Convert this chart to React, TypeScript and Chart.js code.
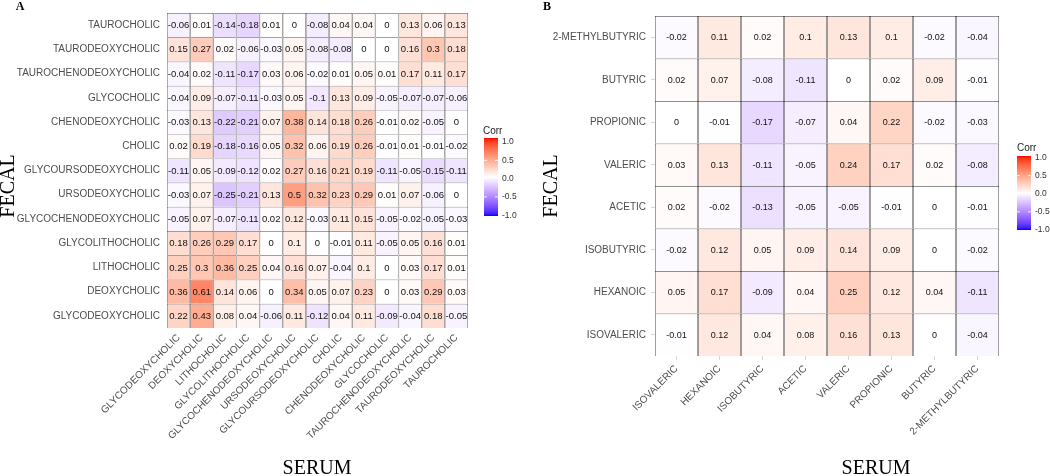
import React, { useEffect, useRef } from "react";
import { Chart, registerables } from "chart.js";
Chart.register(...registerables);

// ---------- Panel A: bile acids ----------
const bileSerum = [
  "GLYCODEOXYCHOLIC", "DEOXYCHOLIC", "LITHOCHOLIC", "GLYCOLITHOCHOLIC",
  "GLYCOCHENODEOXYCHOLIC", "URSODEOXYCHOLIC", "GLYCOURSODEOXYCHOLIC", "CHOLIC",
  "CHENODEOXYCHOLIC", "GLYCOCHOLIC", "TAUROCHENODEOXYCHOLIC", "TAURODEOXYCHOLIC", "TAUROCHOLIC",
];
// rows listed top to bottom
const bileFecal = [
  "TAUROCHOLIC", "TAURODEOXYCHOLIC", "TAUROCHENODEOXYCHOLIC", "GLYCOCHOLIC",
  "CHENODEOXYCHOLIC", "CHOLIC", "GLYCOURSODEOXYCHOLIC", "URSODEOXYCHOLIC",
  "GLYCOCHENODEOXYCHOLIC", "GLYCOLITHOCHOLIC", "LITHOCHOLIC", "DEOXYCHOLIC", "GLYCODEOXYCHOLIC",
];
const bileCorr = [
  [-0.06, 0.01, -0.14, -0.18, 0.01, 0, -0.08, 0.04, 0.04, 0, 0.13, 0.06, 0.13],
  [0.15, 0.27, 0.02, -0.06, -0.03, 0.05, -0.08, -0.08, 0, 0, 0.16, 0.3, 0.18],
  [-0.04, 0.02, -0.11, -0.17, 0.03, 0.06, -0.02, 0.01, 0.05, 0.01, 0.17, 0.11, 0.17],
  [-0.04, 0.09, -0.07, -0.11, -0.03, 0.05, -0.1, 0.13, 0.09, -0.05, -0.07, -0.07, -0.06],
  [-0.03, 0.13, -0.22, -0.21, 0.07, 0.38, 0.14, 0.18, 0.26, -0.01, 0.02, -0.05, 0],
  [0.02, 0.19, -0.18, -0.16, 0.05, 0.32, 0.06, 0.19, 0.26, -0.01, 0.01, -0.01, -0.02],
  [-0.11, 0.05, -0.09, -0.12, 0.02, 0.27, 0.16, 0.21, 0.19, -0.11, -0.05, -0.15, -0.11],
  [-0.03, 0.07, -0.25, -0.21, 0.13, 0.5, 0.32, 0.23, 0.29, 0.01, 0.07, -0.06, 0],
  [-0.05, 0.07, -0.07, -0.11, 0.02, 0.12, -0.03, 0.11, 0.15, -0.05, -0.02, -0.05, -0.03],
  [0.18, 0.26, 0.29, 0.17, 0, 0.1, 0, -0.01, 0.11, -0.05, 0.05, 0.16, 0.01],
  [0.25, 0.3, 0.36, 0.25, 0.04, 0.16, 0.07, -0.04, 0.1, 0, 0.03, 0.17, 0.01],
  [0.36, 0.61, 0.14, 0.06, 0, 0.34, 0.05, 0.07, 0.23, 0, 0.03, 0.29, 0.03],
  [0.22, 0.43, 0.08, 0.04, -0.06, 0.11, -0.12, 0.04, 0.11, -0.09, -0.04, 0.18, -0.05],
];

// ---------- Panel B: short-chain fatty acids ----------
const scfaSerum = ["ISOVALERIC", "HEXANOIC", "ISOBUTYRIC", "ACETIC", "VALERIC", "PROPIONIC", "BUTYRIC", "2-METHYLBUTYRIC"];
const scfaFecal = ["2-METHYLBUTYRIC", "BUTYRIC", "PROPIONIC", "VALERIC", "ACETIC", "ISOBUTYRIC", "HEXANOIC", "ISOVALERIC"];
const scfaCorr = [
  [-0.02, 0.11, 0.02, 0.1, 0.13, 0.1, -0.02, -0.04],
  [0.02, 0.07, -0.08, -0.11, 0, 0.02, 0.09, -0.01],
  [0, -0.01, -0.17, -0.07, 0.04, 0.22, -0.02, -0.03],
  [0.03, 0.13, -0.11, -0.05, 0.24, 0.17, 0.02, -0.08],
  [0.02, -0.02, -0.13, -0.05, -0.05, -0.01, 0, -0.01],
  [-0.02, 0.12, 0.05, 0.09, 0.14, 0.09, 0, -0.02],
  [0.05, 0.17, -0.09, 0.04, 0.25, 0.12, 0.04, -0.11],
  [-0.01, 0.12, 0.04, 0.08, 0.16, 0.13, 0, -0.04],
];

const legendTicks = [1.0, 0.5, 0.0, -0.5, -1.0];

// ---------- colour scale (Lab interpolation blue - white - red) ----------
const LAB_RED = [53.2408, 80.0925, 67.2032];
const LAB_BLUE = [32.297, 79.1875, -107.8602];
const LAB_WHITE = [100, 0, 0];

function lab2rgb(L: number, a: number, b: number): string {
  let y = (L + 16) / 116;
  let x = a / 500 + y;
  let z = y - b / 200;
  const f = (t: number) => (t * t * t > 0.008856 ? t * t * t : (t - 16 / 116) / 7.787);
  const X = 0.95047 * f(x), Y = 1.0 * f(y), Z = 1.08883 * f(z);
  let r = X * 3.2406 + Y * -1.5372 + Z * -0.4986;
  let g = X * -0.9689 + Y * 1.8758 + Z * 0.0415;
  let bb = X * 0.0557 + Y * -0.204 + Z * 1.057;
  const gam = (c: number) => (c > 0.0031308 ? 1.055 * Math.pow(c, 1 / 2.4) - 0.055 : 12.92 * c);
  const cl = (c: number) => Math.round(Math.max(0, Math.min(1, gam(c))) * 255);
  return `rgb(${cl(r)},${cl(g)},${cl(bb)})`;
}
function corrColor(v: number): string {
  const t = Math.max(-1, Math.min(1, v));
  const end = t >= 0 ? LAB_RED : LAB_BLUE;
  const k = Math.abs(t);
  return lab2rgb(
    LAB_WHITE[0] + (end[0] - LAB_WHITE[0]) * k,
    LAB_WHITE[1] + (end[1] - LAB_WHITE[1]) * k,
    LAB_WHITE[2] + (end[2] - LAB_WHITE[2]) * k
  );
}

const SANS = "'Liberation Sans', Arial, sans-serif";
const SERIF = "'Liberation Serif', 'Times New Roman', serif";

type Cfg = {
  cols: string[];
  rows: string[];
  corr: number[][];
  top: number;
  right: number;
  yWidth: number;
  xHeight: number;
  border: string;
  borderWidth: number;
  valueFont: number;
  showTicks: boolean;
  yPad: number;
  xPad: number;
  letter: string;
  letterPos: [number, number];
  fecalPos: [number, number];
  serumPos: [number, number];
  corrPos: [number, number];
  bar: { x: number; y0: number; y1: number; w: number };
  labelY0: number;
  labelStep: number;
};

function makeChart(canvas: HTMLCanvasElement, cfg: Cfg) {
  const n = cfg.rows.length;
  const rowsBottomUp = cfg.rows.slice().reverse();
  const corrBottomUp = cfg.corr.slice().reverse();
  const datasets = rowsBottomUp.map((r, i) => ({
    label: r,
    data: cfg.cols.map(() => 1),
    backgroundColor: corrBottomUp[i].map(corrColor),
    borderColor: cfg.border,
    borderWidth: cfg.borderWidth,
    categoryPercentage: 1,
    barPercentage: 1,
    inflateAmount: 0,
  }));

  const plugin = {
    id: "heatText",
    afterDatasetsDraw(chart: any) {
      const ctx = chart.ctx;
      ctx.save();
      ctx.font = `${cfg.valueFont}px ${SANS}`;
      ctx.fillStyle = "#111";
      ctx.textAlign = "center";
      ctx.textBaseline = "middle";
      chart.data.datasets.forEach((_: any, di: number) => {
        const meta = chart.getDatasetMeta(di);
        meta.data.forEach((el: any, j: number) => {
          const p = el.getProps(["x", "y", "base"], true);
          ctx.fillText(String(corrBottomUp[di][j]), p.x, (p.y + p.base) / 2 + 0.5);
        });
      });
      ctx.restore();
    },
    afterDraw(chart: any) {
      const ctx = chart.ctx;
      ctx.save();
      // panel letter
      ctx.fillStyle = "#000";
      ctx.font = `bold 12px ${SERIF}`;
      ctx.textAlign = "center";
      ctx.textBaseline = "middle";
      ctx.fillText(cfg.letter, cfg.letterPos[0], cfg.letterPos[1]);
      // axis titles
      ctx.font = `20px ${SERIF}`;
      ctx.fillText("SERUM", cfg.serumPos[0], cfg.serumPos[1]);
      ctx.save();
      ctx.translate(cfg.fecalPos[0], cfg.fecalPos[1]);
      ctx.rotate(-Math.PI / 2);
      ctx.fillText("FECAL", 0, 0);
      ctx.restore();
      // legend
      ctx.font = `10px ${SANS}`;
      ctx.textAlign = "left";
      ctx.fillStyle = "#222";
      ctx.fillText("Corr", cfg.corrPos[0], cfg.corrPos[1]);
      const b = cfg.bar;
      const grad = ctx.createLinearGradient(0, b.y0, 0, b.y1);
      for (let s = 0; s <= 40; s++) {
        const v = 1 - (2 * s) / 40;
        grad.addColorStop(s / 40, corrColor(v));
      }
      ctx.fillStyle = grad;
      ctx.fillRect(b.x, b.y0, b.w, b.y1 - b.y0);
      ctx.font = `8.5px ${SANS}`;
      ctx.fillStyle = "#333";
      ctx.strokeStyle = "rgba(255,255,255,0.9)";
      ctx.lineWidth = 1;
      legendTicks.forEach((t, k) => {
        const y = cfg.labelY0 + k * cfg.labelStep;
        ctx.fillText(t.toFixed(1), b.x + b.w + 4, y);
        if (k > 0 && k < legendTicks.length - 1) {
          ctx.beginPath();
          ctx.moveTo(b.x, y);
          ctx.lineTo(b.x + 3, y);
          ctx.moveTo(b.x + b.w - 3, y);
          ctx.lineTo(b.x + b.w, y);
          ctx.stroke();
        }
      });
      ctx.restore();
    },
  };

  const tickGrid = cfg.showTicks
    ? { display: true, drawOnChartArea: false, drawTicks: true, tickLength: 4, tickColor: "#d6d6d6", offset: false }
    : { display: false, drawTicks: false };

  return new Chart(canvas, {
    type: "bar",
    data: { labels: cfg.cols, datasets } as any,
    options: {
      animation: false,
      responsive: false,
      maintainAspectRatio: false,
      devicePixelRatio: 1,
      layout: { padding: { left: 0, top: cfg.top, right: cfg.right, bottom: 0 } },
      plugins: { legend: { display: false }, tooltip: { enabled: false } },
      scales: {
        x: {
          stacked: true,
          grid: tickGrid as any,
          border: { display: false },
          ticks: {
            autoSkip: false,
            minRotation: 45,
            maxRotation: 45,
            padding: cfg.xPad,
            color: "#4d4d4d",
            font: { family: SANS, size: 10 },
          },
          afterFit: (s: any) => {
            s.height = cfg.xHeight;
          },
        },
        y: {
          type: "linear",
          stacked: true,
          min: 0,
          max: n,
          afterBuildTicks: (s: any) => {
            s.ticks = rowsBottomUp.map((_, i) => ({ value: i + 0.5 }));
          },
          grid: tickGrid as any,
          border: { display: false },
          ticks: {
            autoSkip: false,
            padding: cfg.yPad,
            color: "#4d4d4d",
            font: { family: SANS, size: 10 },
            callback: (_v: any, i: number) => rowsBottomUp[i],
          },
          afterFit: (s: any) => {
            s.width = cfg.yWidth;
          },
        },
      },
    } as any,
    plugins: [plugin],
  });
}

export default function App() {
  const refA = useRef<HTMLCanvasElement>(null);
  const refB = useRef<HTMLCanvasElement>(null);

  useEffect(() => {
    const a = makeChart(refA.current!, {
      cols: bileSerum,
      rows: bileFecal,
      corr: bileCorr,
      top: 11,
      right: 57,
      yWidth: 167,
      xHeight: 148,
      border: "#5a5a5a",
      borderWidth: 0.7,
      valueFont: 9.5,
      showTicks: false,
      yPad: 7,
      xPad: 4,
      letter: "A",
      letterPos: [20, 7],
      fecalPos: [9, 186],
      serumPos: [317, 469],
      corrPos: [483, 131],
      bar: { x: 484, y0: 138, y1: 216, w: 14 },
      labelY0: 142,
      labelStep: 18.3,
    });
    const b = makeChart(refB.current!, {
      cols: scfaSerum,
      rows: scfaFecal,
      corr: scfaCorr,
      top: 16,
      right: 51,
      yWidth: 130,
      xHeight: 120,
      border: "#3c3c3c",
      borderWidth: 0.7,
      valueFont: 9,
      showTicks: true,
      yPad: 5,
      xPad: 3,
      letter: "B",
      letterPos: [22, 7],
      fecalPos: [27, 186],
      serumPos: [351, 469],
      corrPos: [492, 148],
      bar: { x: 492, y0: 156, y1: 230, w: 14 },
      labelY0: 157.5,
      labelStep: 18.1,
    });
    return () => {
      a.destroy();
      b.destroy();
    };
  }, []);

  return (
    <div style={{ position: "absolute", left: 0, top: 0, width: 1050, height: 476, background: "#fff", overflow: "hidden" }}>
      <canvas ref={refA} width={525} height={476} style={{ position: "absolute", left: 0, top: 0, width: 525, height: 476 }} />
      <canvas ref={refB} width={525} height={476} style={{ position: "absolute", left: 525, top: 0, width: 525, height: 476 }} />
    </div>
  );
}
